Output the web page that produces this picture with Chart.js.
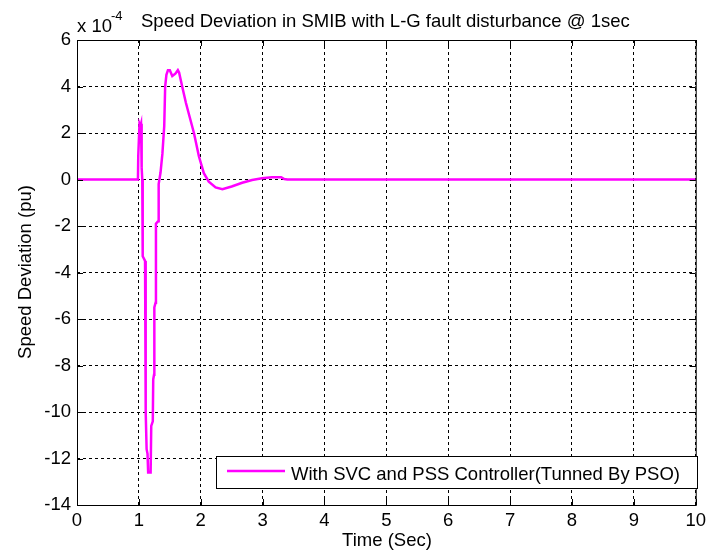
<!DOCTYPE html>
<html>
<head>
<meta charset="utf-8">
<title>Speed Deviation in SMIB</title>
<script src="https://cdn.jsdelivr.net/npm/chart.js@4/dist/chart.umd.min.js"></script>
<style>
  html, body { margin: 0; padding: 0; background: #fff; }
  #wrap { width: 711px; height: 553px; }
</style>
</head>
<body>
<div id="wrap"><canvas id="speedChart" width="711" height="553"></canvas></div>
<script>
// speed deviation after the L-G fault (values in units of 1e-4 pu)
const timeSec = [0, 0.985, 0.99, 1.0, 1.01, 1.025, 1.035, 1.045, 1.055, 1.062, 1.1, 1.104, 1.112, 1.115, 1.125, 1.14, 1.15,
  1.19, 1.2, 1.225, 1.232, 1.245, 1.25, 1.27, 1.276, 1.31, 1.32, 1.35, 1.38, 1.41, 1.425, 1.445, 1.47, 1.5, 1.54, 1.59,
  1.63, 1.65, 1.7, 1.76, 1.82, 1.89, 1.97, 2.05, 2.13, 2.24, 2.35, 2.5, 2.67, 2.83, 2.99, 3.15, 3.3, 3.35, 3.4, 10];
const speedDev = [0, 0, 1.0, 1.0, 2.4, 2.3, 2.4, 0.5, 0, -3.3, -3.5, -6.8, -7.0, -10.0, -11.6, -11.8, -12.6,
  -12.6, -10.6, -10.4, -8.6, -8.4, -5.5, -5.3, -1.9, -1.8, -0.2, 0.3, 1.1, 2.3, 4.0, 4.5, 4.7, 4.7, 4.45, 4.55,
  4.7, 4.6, 4.0, 3.3, 2.7, 2.0, 1.0, 0.27, -0.09, -0.34, -0.42, -0.3, -0.14, -0.02, 0.05, 0.1, 0.1, 0.02, 0, 0];

const xTicks = [0, 1, 2, 3, 4, 5, 6, 7, 8, 9, 10];
const yTicks = [6, 4, 2, 0, -2, -4, -6, -8, -10, -12, -14];

const TITLE = 'Speed Deviation in SMIB with L-G fault disturbance @ 1sec';
const X_LABEL = 'Time (Sec)';
const Y_LABEL = 'Speed Deviation (pu)';
const SERIES_LABEL = 'With SVC and PSS Controller(Tunned By PSO)';
const FONT = '"Liberation Sans", Arial, sans-serif';
const FS = 18.5;

const points = timeSec.map((t, i) => ({ x: t, y: speedDev[i] }));

// frame, inner ticks, title, axis labels and legend, drawn like the matlab figure
const matlabDecor = {
  id: 'matlabDecor',
  afterDraw(chart) {
    const { ctx, chartArea: a, scales } = chart;
    ctx.save();
    ctx.strokeStyle = '#000';
    ctx.lineWidth = 1;
    ctx.setLineDash([]);
    ctx.strokeRect(a.left + 0.5, a.top + 0.5, a.right - a.left, a.bottom - a.top);

    ctx.beginPath();
    xTicks.forEach(v => {
      const px = Math.round(scales.x.getPixelForValue(v)) + 0.5;
      ctx.moveTo(px, a.bottom); ctx.lineTo(px, a.bottom - 6);
      ctx.moveTo(px, a.top); ctx.lineTo(px, a.top + 6);
    });
    yTicks.forEach(v => {
      const py = Math.round(scales.y.getPixelForValue(v)) + 0.5;
      ctx.moveTo(a.left, py); ctx.lineTo(a.left + 6, py);
      ctx.moveTo(a.right, py); ctx.lineTo(a.right - 6, py);
    });
    ctx.stroke();

    ctx.fillStyle = '#000';
    ctx.font = FS + 'px ' + FONT;
    ctx.textBaseline = 'alphabetic';
    ctx.textAlign = 'left';
    ctx.fillText(TITLE, 141, 27);
    ctx.fillText('x 10', 77, 32);
    ctx.font = '13px ' + FONT;
    ctx.fillText('-4', 111, 20);

    ctx.font = FS + 'px ' + FONT;
    ctx.textAlign = 'center';
    ctx.fillText(X_LABEL, 387, 546);

    ctx.save();
    ctx.translate(31, 272);
    ctx.rotate(-Math.PI / 2);
    ctx.fillText(Y_LABEL, 0, 0);
    ctx.restore();

    // legend box
    const lx = 216, ly = 456, lw = 481, lh = 32;
    ctx.fillStyle = '#fff';
    ctx.fillRect(lx, ly, lw, lh);
    ctx.strokeStyle = '#000';
    ctx.strokeRect(lx + 0.5, ly + 0.5, lw, lh);
    ctx.strokeStyle = '#ff00ff';
    ctx.lineWidth = 2.5;
    ctx.beginPath();
    ctx.moveTo(227, 471); ctx.lineTo(285, 471);
    ctx.stroke();
    ctx.fillStyle = '#000';
    ctx.textAlign = 'left';
    ctx.fillText(SERIES_LABEL, 291, 480);
    ctx.restore();
  }
};

new Chart(document.getElementById('speedChart'), {
  type: 'line',
  data: {
    datasets: [{
      label: SERIES_LABEL,
      data: points,
      borderColor: '#ff00ff',
      borderWidth: 2.5,
      pointRadius: 0,
      tension: 0,
      fill: false
    }]
  },
  options: {
    responsive: false,
    animation: false,
    layout: { padding: { left: 0, top: 40, right: 11, bottom: 0 } },
    plugins: { legend: { display: false }, tooltip: { enabled: false } },
    scales: {
      x: {
        type: 'linear',
        min: 0, max: 10,
        afterFit: s => { s.height = 48; },
        afterBuildTicks: s => { s.ticks = xTicks.map(v => ({ value: v })); },
        grid: { color: '#000', lineWidth: 1, drawTicks: false },
        border: { display: false, dash: [3, 3] },
        ticks: { color: '#000', padding: 5, maxRotation: 0, font: { family: FONT, size: FS } }
      },
      y: {
        min: -14, max: 6,
        afterFit: s => { s.width = 77; },
        afterBuildTicks: s => { s.ticks = yTicks.map(v => ({ value: v })); },
        grid: { color: '#000', lineWidth: 1, drawTicks: false },
        border: { display: false, dash: [3, 3] },
        ticks: { color: '#000', padding: 6, font: { family: FONT, size: FS } }
      }
    }
  },
  plugins: [matlabDecor]
});
</script>
</body>
</html>
